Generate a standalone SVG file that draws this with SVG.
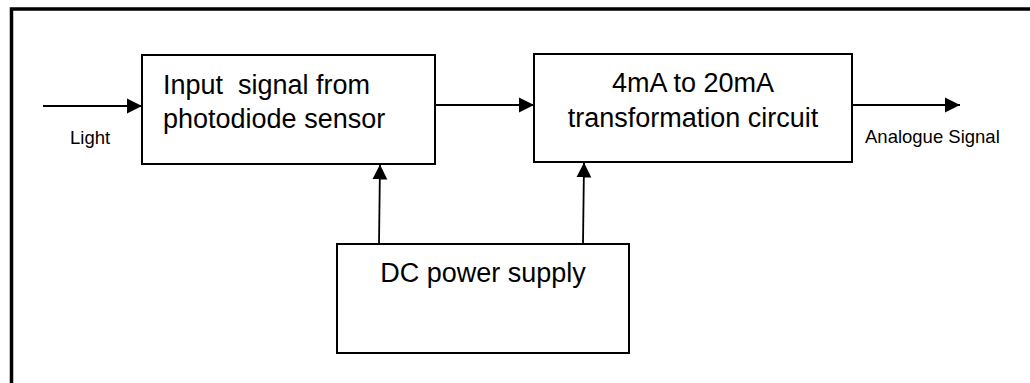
<svg xmlns="http://www.w3.org/2000/svg" width="1030" height="383" viewBox="0 0 1030 383">
<style>
.box{fill:#fff;stroke:#000;stroke-width:2}
.conn{fill:none;stroke:#000;stroke-width:1.8}
.t{font-family:"Liberation Sans",Arial,sans-serif;font-size:27px;fill:#000;white-space:pre}
.s{font-family:"Liberation Sans",Arial,sans-serif;font-size:18.5px;fill:#000}
</style>
<defs>
<marker id="ah" markerWidth="16" markerHeight="16" viewBox="0 0 16 16" refX="15" refY="8" orient="auto" markerUnits="userSpaceOnUse">
<path d="M0,0.5 L15,8 L0,15.5 Z" fill="#000"/>
</marker>
</defs>
<rect width="1030" height="383" fill="#fff"/>
<path d="M11.5,383 V9 H1030" fill="none" stroke="#000" stroke-width="3.5"/>
<g id="node-input">
<rect class="box" x="142" y="55" width="293" height="109"/>
<text class="t" x="163" y="94" xml:space="preserve">Input  signal from</text>
<text class="t" x="163" y="128">photodiode sensor</text>
</g>
<g id="node-transform">
<rect class="box" x="534" y="54" width="318" height="108"/>
<text class="t" x="693" y="92" text-anchor="middle">4mA to 20mA</text>
<text class="t" x="693" y="127" text-anchor="middle">transformation circuit</text>
</g>
<g id="node-dc">
<rect class="box" x="337" y="244" width="292" height="109"/>
<text class="t" x="483" y="282" text-anchor="middle">DC power supply</text>
</g>
<g id="connectors">
<line class="conn" x1="43" y1="106" x2="142" y2="106" marker-end="url(#ah)"/>
<line class="conn" x1="435" y1="105" x2="534" y2="105" marker-end="url(#ah)"/>
<line class="conn" x1="852" y1="105" x2="960" y2="105" marker-end="url(#ah)"/>
<line class="conn" x1="379" y1="244" x2="380" y2="164.5" marker-end="url(#ah)"/>
<line class="conn" x1="583" y1="244" x2="584" y2="162.5" marker-end="url(#ah)"/>
</g>
<text class="s" x="70" y="144">Light</text>
<text class="s" x="865" y="143">Analogue Signal</text>
</svg>
